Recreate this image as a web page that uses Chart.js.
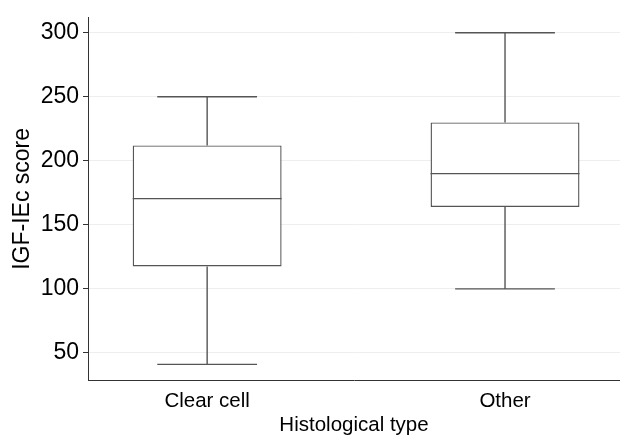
<!DOCTYPE html>
<html>
<head>
<meta charset="utf-8">
<script src="https://cdn.jsdelivr.net/npm/chart.js@4/dist/chart.umd.min.js"></script>
<style>
  html, body { margin: 0; padding: 0; background: #fff; }
  #wrap { width: 620px; height: 438px; }
</style>
</head>
<body>
<div id="wrap"><canvas id="boxChart"></canvas></div>
<script>
const categories = ['Clear cell', 'Other'];
const whiskerLow = [41, 100];
const q1 = [117.5, 164];
const median = [170.5, 190];
const q3 = [212, 230];
const whiskerHigh = [250, 300];
const yTicks = [50, 100, 150, 200, 250, 300];

const FONT = 'Liberation Sans, Arial, sans-serif';
const LINE = '#555555';

// whiskers + median line, placed with the chart's own scales
const boxExtras = {
    id: 'boxExtras',
    afterDatasetsDraw(chart) {
        const ctx = chart.ctx;
        const xs = chart.scales.x, ys = chart.scales.y;
        const meta = chart.getDatasetMeta(0);
        ctx.save();
        ctx.strokeStyle = LINE;
        ctx.lineWidth = 1.4;
        categories.forEach((c, i) => {
            const bar = meta.data[i];
            const cx = xs.getPixelForValue(i + 1);
            const half = bar.width / 2;
            const cap = half * 0.67;
            const yMed = ys.getPixelForValue(median[i]);
            const yLo = ys.getPixelForValue(whiskerLow[i]);
            const yHi = ys.getPixelForValue(whiskerHigh[i]);
            const yQ1 = ys.getPixelForValue(q1[i]);
            const yQ3 = ys.getPixelForValue(q3[i]);
            ctx.beginPath();
            ctx.moveTo(cx - half, yMed); ctx.lineTo(cx + half, yMed);
            ctx.moveTo(cx, yQ3); ctx.lineTo(cx, yHi);
            ctx.moveTo(cx - cap, yHi); ctx.lineTo(cx + cap, yHi);
            ctx.moveTo(cx, yQ1); ctx.lineTo(cx, yLo);
            ctx.moveTo(cx - cap, yLo); ctx.lineTo(cx + cap, yLo);
            ctx.stroke();
        });
        ctx.restore();
    }
};

const ctx = document.getElementById('boxChart').getContext('2d');
const boxChart = new Chart(ctx, {
    type: 'bar',
    data: {
        datasets: [{
            label: 'IGF-IEc score',
            data: categories.map((c, i) => ({ x: i + 1, y: [q1[i], q3[i]] })),
            backgroundColor: '#ffffff',
            borderColor: LINE,
            borderWidth: 1.4,
            borderSkipped: false,
            barPercentage: 1,
            categoryPercentage: 0.5
        }]
    },
    options: {
        responsive: true,
        maintainAspectRatio: false,
        animation: false,
        layout: { padding: { top: 16, right: 0, left: 0, bottom: 0 } },
        plugins: { legend: { display: false }, tooltip: { enabled: false } },
        scales: {
            x: {
                type: 'linear',
                offset: false,
                min: 0.6,
                max: 2.386,
                grid: { display: false, drawTicks: false },
                border: { display: true, color: '#333', width: 1 },
                afterBuildTicks: s => { s.ticks = categories.map((c, i) => ({ value: i + 1 })); },
                afterFit: s => { s.height = 58; },
                ticks: {
                    color: '#000',
                    padding: 9,
                    maxRotation: 0,
                    font: { family: FONT, size: 20.5 },
                    callback: (v) => categories[v - 1]
                },
                title: {
                    display: true,
                    text: 'Histological type',
                    color: '#000',
                    padding: { top: 0, bottom: 0 },
                    font: { family: FONT, size: 20.5 }
                }
            },
            y: {
                min: 28.8,
                max: 311.7,
                afterBuildTicks: s => { s.ticks = yTicks.map(v => ({ value: v })); },
                afterFit: s => { s.width = 88; },
                grid: { color: '#eeeeee', tickColor: '#333', tickLength: 5, lineWidth: 1 },
                border: { display: true, color: '#333', width: 1 },
                ticks: {
                    color: '#000',
                    padding: 4,
                    font: { family: FONT, size: 23 }
                },
                title: {
                    display: true,
                    text: 'IGF-IEc score',
                    color: '#000',
                    padding: { top: 9, bottom: 0 },
                    font: { family: FONT, size: 23 }
                }
            }
        }
    },
    plugins: [boxExtras]
});
</script>
</body>
</html>
